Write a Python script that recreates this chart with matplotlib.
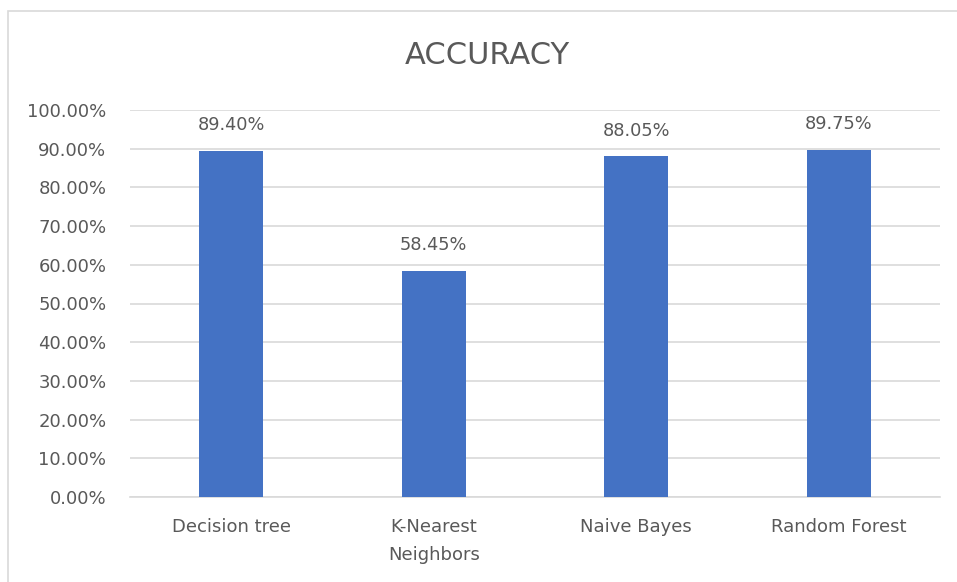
import matplotlib
matplotlib.use("Agg")
import matplotlib.pyplot as plt
from matplotlib.ticker import FuncFormatter
from matplotlib.patches import Rectangle

models = ["Decision tree", "K-Nearest\nNeighbors", "Naive Bayes", "Random Forest"]
accuracy = [0.8940, 0.5845, 0.8805, 0.8975]
y_ticks = [i / 10 for i in range(11)]

bar_color = "#4472C4"
text_color = "#595959"
grid_color = "#D9D9D9"
font = ["DejaVu Sans"]

fig = plt.figure(figsize=(9.57, 5.82), dpi=100)
fig.patch.set_facecolor("white")

# chart frame (left and top edges visible)
fig.add_artist(Rectangle((8 / 957, -0.01), 1.02, 1 - 11 / 582 + 0.01,
                         transform=fig.transFigure, fill=False,
                         edgecolor="#D9D9D9", linewidth=1.2))

ax = fig.add_axes([130 / 957, 85 / 582, 810 / 957, 387 / 582])
x = range(len(models))
bars = ax.bar(x, accuracy, width=0.316, color=bar_color, zorder=3)

ax.set_ylim(0, 1.0)
ax.set_xlim(-0.5, len(models) - 0.5)
ax.set_yticks(y_ticks)
ax.yaxis.set_major_formatter(FuncFormatter(lambda v, _: f"{v * 100:.2f}%"))
ax.grid(axis="y", color=grid_color, linewidth=1.2, zorder=0)
ax.tick_params(axis="both", length=0, colors=text_color)
ax.tick_params(axis="y", pad=17, labelsize=13)
ax.tick_params(axis="x", pad=15, labelsize=13)
ax.set_xticks(list(x))
ax.set_xticklabels(models, fontfamily=font, linespacing=1.75)
for lbl in ax.get_yticklabels():
    lbl.set_fontfamily(font)
for side in ["top", "right", "left"]:
    ax.spines[side].set_visible(False)
ax.spines["bottom"].set_color(grid_color)
ax.spines["bottom"].set_linewidth(1.2)

for rect, v in zip(bars, accuracy):
    ax.annotate(f"{v * 100:.2f}%", (rect.get_x() + rect.get_width() / 2, v),
                xytext=(0, 12), textcoords="offset points", ha="center",
                va="bottom", color=text_color, fontsize=12.8, fontfamily=font)

fig.text(487 / 957, 1 - 55 / 582, "ACCURACY", ha="center", va="center",
         fontsize=22, color=text_color, fontfamily=font)

fig.savefig("out.png", dpi=100, facecolor="white")
